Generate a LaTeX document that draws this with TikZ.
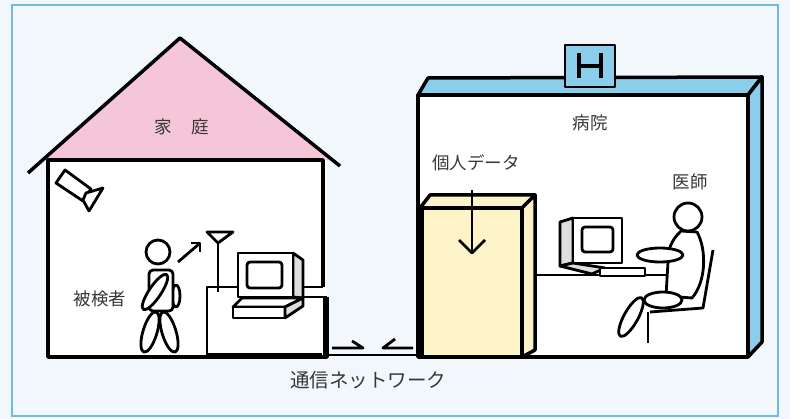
\documentclass[tikz,border=0pt]{standalone}
\usepackage{fontspec}
\newfontfamily\jpfont{Noto Sans CJK JP}

\definecolor{paper}{RGB}{241,247,251}
\definecolor{frameblue}{RGB}{110,186,226}
\definecolor{roofpink}{RGB}{245,198,216}
\definecolor{hospblue}{RGB}{138,206,236}
\definecolor{filecream}{RGB}{252,244,200}
\definecolor{sidegray}{RGB}{222,222,222}
\definecolor{labelgray}{RGB}{55,55,55}

\begin{document}
\begin{tikzpicture}[x=1pt,y=-1pt]
      \tikzstyle{every node}+=[inner sep=0pt, text=labelgray, font=\jpfont\fontsize{17.5}{20}\selectfont]
      \tikzstyle{wall}=[black, line width=3.5, line join=round]
      \tikzstyle{part}=[black, line width=2.8, line join=round]
      \useasboundingbox (0,0) rectangle (790,419);
      \fill [paper] (0,0) rectangle (790,419);
      \draw [frameblue, line width=1.8] (12,5) rectangle (778,416);
      % house
      \fill [roofpink] (180,40) -- (43,160) -- (332,160) -- cycle;
      \fill [white] (48,160) rectangle (327,357);
      \draw [wall] (323,287) -- (323,160) -- (48,160) -- (48,357) -- (327,357) -- (327,297);
      \draw [wall] (28,173) -- (180,38) -- (340,166);
      \node (home) at (182,127) {家\hspace{1.1em}庭};
      \draw [part, fill=white] (56,183) -- (65,170) -- (91,189) -- (83,201) -- cycle;
      \draw [part, fill=white] (86,193) -- (103,188) -- (89,211) -- (83,200) -- cycle;
      \node (patient) at (100,299) {被検者};
      \draw [part, fill=white, rotate around={73:(150,332)}] (150,332) ellipse [x radius=21, y radius=7];
      \draw [part, fill=white, rotate around={107:(169,332)}] (169,332) ellipse [x radius=21, y radius=7];
      \draw [part, fill=white] (176,296) ellipse [x radius=4, y radius=11];
      \draw [part, fill=white, rounded corners=4] (149,270) rectangle (173,311);
      \draw [part, fill=white, rotate around={56:(155,292)}] (155,292) ellipse [x radius=21, y radius=6];
      \draw [part, fill=white] (158,252) circle (12);
      \draw [part] (178,262) -- (199,244);
      \draw [part] (191,243) -- (200,243) -- (200,252);
      \draw [part] (207,357) -- (207,287) -- (323,287);
      \draw [black, line width=3] (207,355) -- (322,355);
      \draw [part] (297,297) -- (327,297);
      \draw [black, line width=6] (326,297) -- (326,357);
      \draw [part] (218,243) -- (218,292);
      \draw [part, fill=white] (207,232) -- (233,232) -- (218,243) -- cycle;
      \draw [part, fill=sidegray] (293,253) -- (303,260) -- (303,298) -- (293,297) -- cycle;
      \draw [part, fill=white] (238,253) rectangle (293,297);
      \draw [part, rounded corners=3] (247,262) rectangle (282,288);
      \draw [part, fill=white] (233,307) -- (242,298) -- (303,298) -- (285,307) -- cycle;
      \draw [part, fill=white] (233,307) rectangle (285,318);
      \draw [part, fill=sidegray] (285,307) -- (303,298) -- (303,306) -- (285,318) -- cycle;
      % network
      \draw [part] (327,355) -- (418,355);
      \draw [part] (332,348) -- (363,348) -- (352,341);
      \draw [part] (413,348) -- (383,348) -- (395,339);
      \node (network) at (368,380) {\fontsize{19.5}{22}\selectfont 通信ネットワーク};
      % hospital
      \filldraw [wall, fill=hospblue] (418,95) -- (428,78) -- (762,77) -- (748,95) -- cycle;
      \filldraw [wall, fill=hospblue] (748,95) -- (762,77) -- (762,342) -- (748,357) -- cycle;
      \filldraw [wall, fill=white] (418,95) rectangle (748,357);
      \filldraw [part, fill=hospblue] (565,45) rectangle (615,87);
      \draw [black, line width=4] (579,53) -- (579,78) (601,53) -- (601,78) (579,66) -- (601,66);
      \node (hospital) at (590,123) {病院};
      \node (records) at (476,163) {個人データ};
      \node (doctor) at (690,182) {医師};
      \filldraw [wall, fill=filecream] (420,208) -- (430,195) -- (535,195) -- (522,208) -- cycle;
      \filldraw [wall, fill=filecream] (522,208) -- (535,195) -- (535,350) -- (522,357) -- cycle;
      \filldraw [wall, fill=filecream] (420,208) rectangle (522,357);
      \draw [black, line width=6] (421,208) -- (421,357);
      \draw [part] (472,190) -- (472,252);
      \draw [part] (459,240) -- (472,253) -- (485,240);
      \draw [part] (535,275) -- (668,275);
      \draw [part, fill=sidegray] (560,222) -- (573,218) -- (573,263) -- (560,266) -- cycle;
      \draw [part, fill=white] (573,218) rectangle (622,263);
      \draw [part, rounded corners=3] (582,227) rectangle (613,252);
      \draw [part, fill=sidegray] (560,266) -- (573,263) -- (605,268) -- (592,274) -- cycle;
      \draw [part, fill=white] (600,268) rectangle (645,276);
      \draw [part] (713,250) -- (703,308) -- (650,312);
      \draw [part] (648,312) -- (648,343);
      \draw [part, fill=white, rotate around={61:(631,317)}] (631,317) ellipse [x radius=22, y radius=7];
      \draw [part, fill=white] (681,231) .. controls (671,240) and (667,252) .. (668,262) -- (666,296) -- (692,298) .. controls (706,282) and (707,250) .. (697,232) -- cycle;
      \draw [part, fill=white] (663,300) ellipse [x radius=19, y radius=8];
      \draw [part, fill=white] (660,255) ellipse [x radius=23, y radius=7];
      \draw [part, fill=white] (688,217) circle (14);
\end{tikzpicture}
\end{document}
